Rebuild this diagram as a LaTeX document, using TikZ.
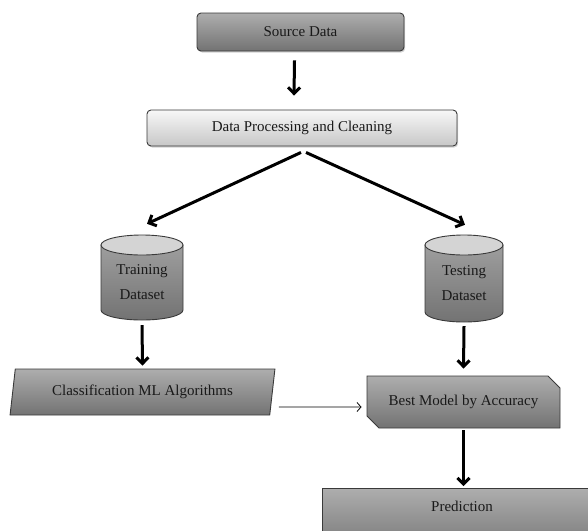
\documentclass[tikz,border=0pt]{standalone}
\usepackage{fontspec}
\setmainfont{Liberation Serif}
\usetikzlibrary{shapes.geometric,shapes.misc,arrows.meta,shadows}
\definecolor{bordc}{HTML}{3A3A3A}
\tikzset{
  base/.style={draw=bordc, line width=0.9pt, font=\fontsize{15}{25}\selectfont, text=black!90, inner sep=0pt},
  darkbox/.style={base, top color=black!32, bottom color=black!55},
  lightbox/.style={base, top color=black!3, bottom color=black!22},
  shad/.style={drop shadow={shadow xshift=1.2pt, shadow yshift=-1.5pt, opacity=0.35}},
  cylbody/.style={draw=bordc, line width=0.9pt, top color=black!38, bottom color=black!55},
  cylend/.style={draw=bordc, line width=0.9pt, fill=black!17},
  lbl/.style={font=\fontsize{15}{25}\selectfont, text=black!90, inner sep=0pt, align=center},
  anch/.style={inner sep=0pt},
  thk/.style={line width=3pt, -{Straight Barb[length=6pt, width=12pt, line width=3pt]}},
  thn/.style={line width=0.8pt, -{Straight Barb[length=4pt, width=9pt, line width=0.8pt]}}
}
\begin{document}
\begin{tikzpicture}[x=1pt, y=-1pt]
\useasboundingbox (0,0) rectangle (588,530);
\node[darkbox, shad, rounded corners=4pt, minimum width=207pt, minimum height=38pt] (src) at (300.5,32) {Source Data};
\node[lightbox, shad, rounded corners=4pt, minimum width=310pt, minimum height=36pt] (dp) at (302,128) {Data Processing and Cleaning};
% Training cylinder
\path[cylbody] (101,245) -- (101,310) arc[start angle=180, end angle=360, x radius=41pt, y radius=10pt] -- (183,245) -- cycle;
\path[cylend] (142,245) ellipse[x radius=41pt, y radius=10pt];
\node[anch, minimum width=82pt, minimum height=85pt] (train) at (142,277.5) {};
\node[lbl] (trainlbl) at (142,282) {Training\\Dataset};
% Testing cylinder
\path[cylbody] (425,245) -- (425,312) arc[start angle=180, end angle=360, x radius=39pt, y radius=10pt] -- (503,245) -- cycle;
\path[cylend] (464,245) ellipse[x radius=39pt, y radius=10pt];
\node[anch, minimum width=78pt, minimum height=87pt] (test) at (464,278.5) {};
\node[lbl] (testlbl) at (464,283) {Testing\\Dataset};
\node[darkbox, trapezium, trapezium left angle=75, trapezium right angle=105, trapezium stretches=true, minimum width=265pt, minimum height=46pt] (cls) at (142.5,392) {Classification ML Algorithms};
\node[darkbox, chamfered rectangle, chamfered rectangle corners={north east,south west}, chamfered rectangle xsep=6pt, chamfered rectangle ysep=6pt, minimum width=193pt, minimum height=52pt] (best) at (463.5,402) {Best Model by Accuracy};
\node[darkbox, anchor=north, minimum width=280pt, inner ysep=14pt, text height=9pt, text depth=30pt] (pred) at (462,488) {Prediction};

\draw[thk] ([xshift=-6pt,yshift=-9pt]src.south) -- ([xshift=-8pt,yshift=14pt]dp.north);
\draw[thk] ([xshift=-1pt,yshift=-6pt]dp.south) -- ([xshift=5pt,yshift=11pt]train.north);
\draw[thk] ([xshift=4pt,yshift=-6pt]dp.south) -- ([xshift=1pt,yshift=10pt]test.north);
\draw[thk] ([yshift=-5pt]train.south) -- ([yshift=3pt]cls.north);
\draw[thk] ([yshift=-4pt]test.south) -- ([yshift=7pt]best.north);
\draw[thn] ([xshift=6pt,yshift=-15pt]cls.east) -- ([xshift=-5pt,yshift=-5pt]best.west);
\draw[thk, shorten >=2pt] ([yshift=-2pt]best.south) -- (best.south |- pred.north);
\end{tikzpicture}
\end{document}
